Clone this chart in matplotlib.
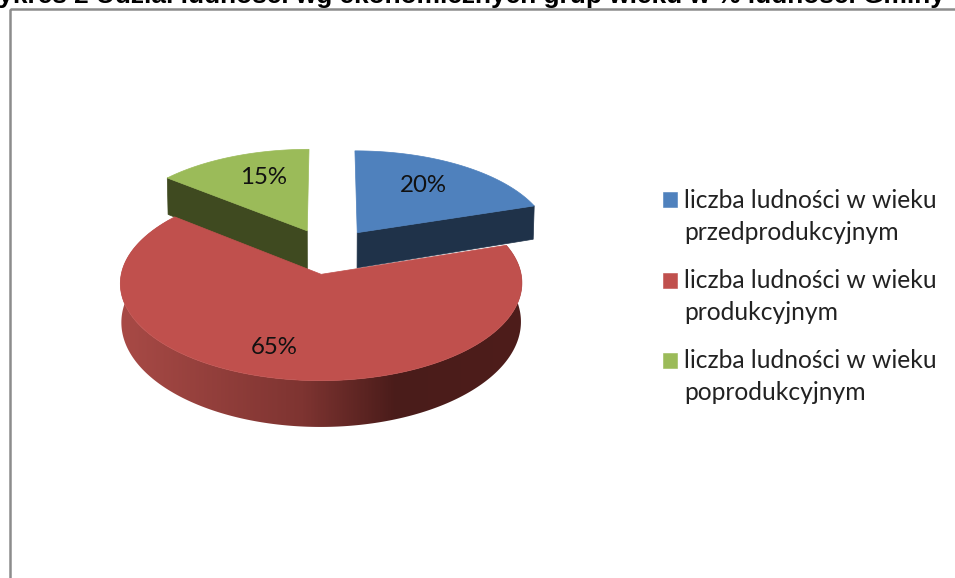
import numpy as np
import matplotlib
matplotlib.use("Agg")
import matplotlib.pyplot as plt
from matplotlib.colors import LinearSegmentedColormap
from matplotlib.patches import Polygon, Rectangle

# ── data ──────────────────────────────────────────────────────────────────────
title = "Wykres 2 Udział ludności wg ekonomicznych grup wieku w % ludności Gminy"
labels = ["liczba ludności w wieku\nprzedprodukcyjnym",
          "liczba ludności w wieku\nprodukcyjnym",
          "liczba ludności w wieku\npoprodukcyjnym"]
values = [20, 65, 15]
colors = ["#4F81BD", "#C0504D", "#9BBB59"]
wall_colors = ["#1F3249", "#4E1D1B", "#3F4A20"]

# ── pie geometry in screen pixels (centre, radii, perspective, explosion) ─────
CX, CY = 329, 251
RX, RY = 195.5, 92.3
PERSP = 0.09
EXPLODE = 0.25
DEPTH = 36.5
LOWER_SHRINK = 0.995
LEFT_EDGE_TWEAK = np.radians(3.0)   # original 3D view pulls this edge inward
WALL_TUCK = 5                       # wall foot slides under the red slice


def project(u, v):
    w = 1 + PERSP * v
    return CX + RX * u / w, CY - RY * v / w


def top_edge(t, shift):
    """Top-surface point at clockwise angle t, for a slice moved along shift."""
    return project(np.sin(t) + shift[0], np.cos(t) + shift[1])


def lower(x, y, v):
    """Same point on the bottom of the pie."""
    w = 1 + PERSP * v
    return CX + (x - CX) * LOWER_SHRINK, y + DEPTH / w**2


fig = plt.figure(figsize=(9.55, 5.78), dpi=100)
ax = fig.add_axes([0, 0, 1, 1])
ax.set_xlim(0, 955)
ax.set_ylim(578, 0)
ax.axis("off")

# frame running off the picture, and the cropped caption above it
ax.add_patch(Rectangle((9.5, 9), 1000, 600, fill=False, edgecolor="#8C8C8C", lw=1.8))
ax.text(459, 3, title, family="Liberation Sans", weight="bold",
        fontsize=18.9, ha="center", va="baseline", color="black", clip_on=False)

edges = np.radians(np.cumsum([0] + values) * 3.6)
slices = []
for i in range(len(values)):
    mid = (edges[i] + edges[i + 1]) / 2
    slices.append([edges[i], edges[i + 1],
                   (EXPLODE * np.sin(mid), EXPLODE * np.cos(mid))])
slices[1][1] += LEFT_EDGE_TWEAK
slices[2][0] += LEFT_EDGE_TWEAK

# walls facing the gap: blue trailing edge, green leading edge
for i, ang in ((0, slices[0][1]), (2, slices[2][0])):
    shift = slices[i][2]
    x0, y0 = project(*shift)
    x1, y1 = top_edge(ang, shift)
    a2 = lower(x0, y0, shift[1])
    b2 = lower(x1, y1, np.cos(ang) + shift[1])
    if i == 2:
        a2 = (a2[0], a2[1] + WALL_TUCK)
        b2 = (b2[0], b2[1] + WALL_TUCK)
    ax.add_patch(Polygon([(x0, y0), (x1, y1), b2, a2], closed=True,
                         facecolor=wall_colors[i], edgecolor=wall_colors[i], lw=0.5))

# red rim with its horizontal shading
t0, t1, shift = slices[1]
ts = np.linspace(t0, t1, 300)
xs, ys = top_edge(ts, shift)
xl, yl = lower(xs, ys, np.cos(ts) + shift[1])
rim = Polygon(np.r_[np.c_[xs, ys], np.c_[xl, yl][::-1]], closed=True,
              facecolor="none", edgecolor="none")
ax.add_patch(rim)
rim_cmap = LinearSegmentedColormap.from_list(
    "rim", [(0, "#A84A46"), (0.45, "#7E3431"), (0.68, "#4A1C1A"), (1, "#4E1D1B")])
im = ax.imshow(np.linspace(0, 1, 400)[None, :], extent=(120, 525, 440, 220),
               aspect="auto", cmap=rim_cmap, interpolation="bilinear")
im.set_clip_path(rim)
ax.set_xlim(0, 955)
ax.set_ylim(578, 0)

# top surfaces
for i, (t0, t1, shift) in enumerate(slices):
    ts = np.linspace(t0, t1, 200)
    xs, ys = top_edge(ts, shift)
    pts = [project(*shift)] + list(zip(xs, ys))
    ax.add_patch(Polygon(pts, closed=True, facecolor=colors[i],
                         edgecolor=colors[i], lw=0.5))

# percentage labels
label_xy = [(423, 185), (274, 347), (264, 178)]
for v, (lx, ly) in zip(values, label_xy):
    ax.text(lx, ly, f"{v}%", family="Lato", fontsize=17.3, ha="center",
            va="center", color="#111111")

# legend
for i, (lab, sy) in enumerate(zip(labels, (192, 273, 353))):
    line1, line2 = lab.split("\n")
    ax.add_patch(Rectangle((663, sy), 14, 15, facecolor=colors[i],
                           edgecolor=colors[i], lw=0.4))
    ax.text(684, sy + 8, line1, family="Lato", fontsize=17.7,
            ha="left", va="center", color="#222222")
    ax.text(684, sy + 40, line2, family="Lato", fontsize=17.7,
            ha="left", va="center", color="#222222")

fig.savefig("out.png", dpi=100)
